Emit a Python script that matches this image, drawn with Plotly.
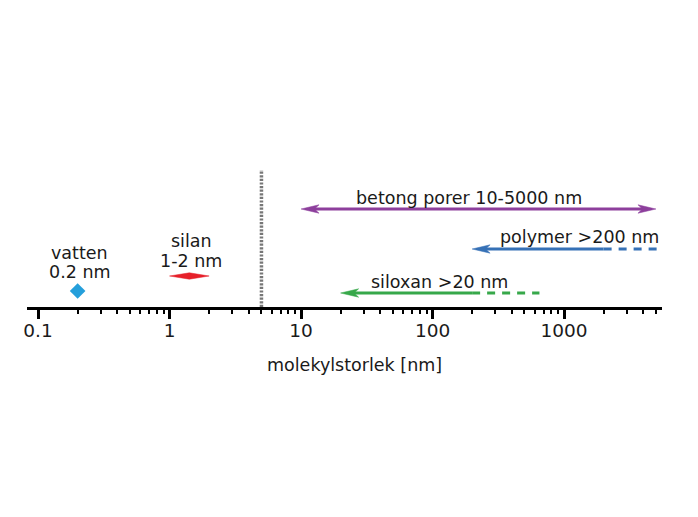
import numpy as np
import plotly.graph_objects as go

# ---- data (nm) ----
tick_vals = [0.1, 1, 10, 100, 1000]
tick_text = ["0.1", "1", "10", "100", "1000"]

vatten_nm = 0.2
silan_range = [1, 2]
betong_range = [10, 5000]
polymer_solid = [200, 2000]
polymer_dash = [2000, 6000]
siloxan_solid = [20, 200]
siloxan_dash = [200, 650]
divider_nm = 5

labels = {
    "betong": "betong porer 10-5000 nm",
    "polymer": "polymer >200 nm",
    "siloxan": "siloxan >20 nm",
    "vatten": ["vatten", "0.2 nm"],
    "silan": ["silan", "1-2 nm"],
}
axis_title = "molekylstorlek [nm]"

# ---- layout constants (vertical lanes, pixels above axis) ----
Y_BETONG, Y_POLY, Y_SILOX, Y_SILAN, Y_VATTEN = 98, 58, 14, 31, 16
Y_TOP = 137
X_RANGE = [-1.084, 3.745]
PX_PER_DECADE = 131.5

PURPLE = "#8d3f9c"
BLUE = "#3671b6"
GREEN = "#37a84a"
RED = "#e6202a"
CYAN = "#259fdb"
TXT = "#1a1a1a"
FONT = "DejaVu Sans"
FS = 17.5

HEAD_LEN, HEAD_HALF = 18, 4.2

lg = np.log10
fig = go.Figure()


def fac(px):
    """multiplicative factor on the log axis equal to px pixels"""
    return 10 ** (px / PX_PER_DECADE)


def line(xs, y, color, dash="solid"):
    fig.add_trace(go.Scatter(x=xs, y=[y, y], mode="lines",
                             line=dict(color=color, width=3, dash=dash),
                             hoverinfo="skip", showlegend=False))


def head(tip, y, color, direction):
    # direction: -1 -> points left, +1 -> points right
    back = tip * fac(-direction * HEAD_LEN)
    notch = tip * fac(-direction * HEAD_LEN * 0.75)
    fig.add_trace(go.Scatter(x=[tip, back, notch, back, tip],
                             y=[y, y + HEAD_HALF, y, y - HEAD_HALF, y],
                             mode="lines", fill="toself", fillcolor=color,
                             line=dict(color=color, width=0.5),
                             hoverinfo="skip", showlegend=False))


# divider dotted line
fig.add_trace(go.Scatter(x=[divider_nm, divider_nm], y=[0, Y_TOP], mode="lines",
                         line=dict(color="#777777", width=3.5, dash="2.2px,1.4px"),
                         hoverinfo="skip", showlegend=False))

# betong porer (double arrow)
line([betong_range[0] * fac(10), betong_range[1] * fac(-10)], Y_BETONG, PURPLE)
head(betong_range[0], Y_BETONG, PURPLE, -1)
head(betong_range[1], Y_BETONG, PURPLE, +1)

# polymer
line([polymer_solid[0] * fac(10), polymer_solid[1]], Y_POLY, BLUE)
line(polymer_dash, Y_POLY, BLUE, dash="8px,7px")
head(polymer_solid[0], Y_POLY, BLUE, -1)

# siloxan
line([siloxan_solid[0] * fac(10), siloxan_solid[1]], Y_SILOX, GREEN)
line(siloxan_dash, Y_SILOX, GREEN, dash="8px,7px")
head(siloxan_solid[0], Y_SILOX, GREEN, -1)

# silan 1-2 nm (elongated diamond)
mid = np.sqrt(silan_range[0] * silan_range[1])
fig.add_trace(go.Scatter(x=[silan_range[0], mid, silan_range[1], mid, silan_range[0]],
                         y=[Y_SILAN, Y_SILAN + 3.2, Y_SILAN, Y_SILAN - 3.2, Y_SILAN],
                         mode="lines", fill="toself", fillcolor=RED,
                         line=dict(color=RED, width=0.5), hoverinfo="skip", showlegend=False))

# vatten diamond
fig.add_trace(go.Scatter(x=[vatten_nm], y=[Y_VATTEN], mode="markers",
                         marker=dict(symbol="diamond", size=12, color=CYAN),
                         hoverinfo="skip", showlegend=False))


def label(text, xnm, y):
    fig.add_annotation(x=lg(xnm), y=y, xref="x", yref="y", text=text, showarrow=False,
                       font=dict(family=FONT, size=FS, color=TXT))


label(labels["betong"], 189, 109)
label(labels["polymer"], 1300, 70)
label(labels["siloxan"], 112, 25)
label(labels["vatten"][0], 0.208, 54)
label(labels["vatten"][1], 0.208, 35)
label(labels["silan"][0], 1.46, 66)
label(labels["silan"][1], 1.46, 46)

fig.add_annotation(x=0.515, y=-58 / 147, xref="paper", yref="paper", text=axis_title,
                   xanchor="center", yanchor="middle", showarrow=False,
                   font=dict(family=FONT, size=FS, color=TXT))

minor_vals = [m * 10.0 ** e for e in range(-1, 4) for m in range(2, 10)]

fig.update_layout(
    width=698, height=517,
    margin=dict(l=27, r=36, t=160, b=210),
    paper_bgcolor="white", plot_bgcolor="white",
    xaxis=dict(type="log", range=X_RANGE,
               tickmode="array", tickvals=tick_vals, ticktext=tick_text,
               ticks="outside", ticklen=9, tickwidth=3, tickcolor="black",
               ticklabelstandoff=-4,
               showline=True, linewidth=3, linecolor="black",
               showgrid=False, zeroline=False,
               tickfont=dict(family=FONT, size=FS + 1, color=TXT),
               minor=dict(tickmode="array", tickvals=minor_vals, ticks="outside",
                          ticklen=4, tickwidth=2, tickcolor="black", showgrid=False)),
    yaxis=dict(range=[0, 147], visible=False, showgrid=False, zeroline=False),
    showlegend=False,
)

fig.write_html("out.html", config={"displayModeBar": False},
               post_script="document.body.style.margin='0px';document.body.style.overflow='hidden';")
